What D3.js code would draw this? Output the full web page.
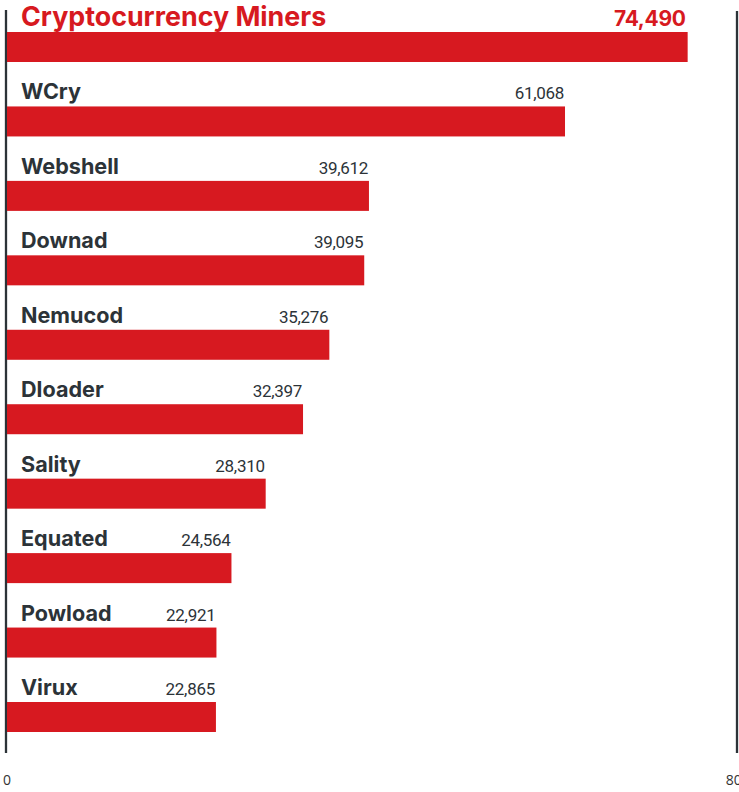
<!DOCTYPE html>
<html>
<head>
<meta charset="utf-8">
<script src="https://cdn.jsdelivr.net/npm/d3@7"></script>
<style>
  html, body { margin: 0; padding: 0; background: #fff; }
  svg { display: block; }
</style>
</head>
<body>
<div id="chart"></div>
<script>
const categories = ["Cryptocurrency Miners", "WCry", "Webshell", "Downad", "Nemucod", "Dloader", "Sality", "Equated", "Powload", "Virux"];
const values = [74490, 61068, 39612, 39095, 35276, 32397, 28310, 24564, 22921, 22865];
const tickValues = [0, 80000];
const tickLabels = ["0", "80K"];

const W = 739, H = 792;
const red = "#d71920", ink = "#2c3338";

const svg = d3.select("#chart").append("svg").attr("width", W).attr("height", H);

const x = d3.scaleLinear().domain([0, 80000]).range([7, 738]);
const y = d3.scaleBand().domain(categories).range([32, 732]).paddingInner(0.597).paddingOuter(0);

const data = categories.map((c, i) => ({ c, v: values[i], i }));

// vertical frame lines at 0 and 80,000
svg.selectAll("line.frame").data(tickValues).enter().append("line")
  .attr("class", "frame")
  .attr("x1", d => x(d) - 1).attr("x2", d => x(d) - 1)
  .attr("y1", (d, i) => i === 0 ? 10 : 11).attr("y2", 753)
  .attr("stroke", ink).attr("stroke-width", 2.3);

// tick labels
svg.selectAll("text.tick").data(tickValues).enter().append("text")
  .attr("class", "tick")
  .attr("x", d => x(d)).attr("y", 785)
  .attr("text-anchor", "middle")
  .attr("font-family", "'Open Sans', sans-serif")
  .attr("font-size", 14)
  .attr("fill", "#333")
  .text((d, i) => tickLabels[i]);

// bars
svg.selectAll("rect.bar").data(data).enter().append("rect")
  .attr("class", "bar")
  .attr("x", x(0))
  .attr("y", d => y(d.c))
  .attr("width", d => x(d.v) - x(0))
  .attr("height", y.bandwidth())
  .attr("fill", red);

// category labels
svg.selectAll("text.cat").data(data).enter().append("text")
  .attr("class", "cat")
  .attr("x", 21)
  .attr("y", d => y(d.c) - (d.i === 0 ? 6 : 7))
  .attr("font-family", "Inter, sans-serif")
  .attr("font-weight", 700)
  .attr("font-size", d => d.i === 0 ? 26.8 : 21.6)
  .attr("fill", d => d.i === 0 ? red : ink)
  .text(d => d.c);

// value labels
const fmt = d3.format(",");
svg.selectAll("text.val").data(data).enter().append("text")
  .attr("class", "val")
  .attr("x", d => x(d.v) - (d.i === 0 ? 2 : 1))
  .attr("y", d => y(d.c) - (d.i === 0 ? 6 : 7))
  .attr("text-anchor", "end")
  .attr("font-family", d => d.i === 0 ? "Inter, sans-serif" : "Roboto, sans-serif")
  .attr("font-weight", d => d.i === 0 ? 700 : 400)
  .attr("font-size", d => d.i === 0 ? 21 : 17)
  .attr("letter-spacing", d => d.i === 0 ? -0.3 : -0.3)
  .attr("fill", d => d.i === 0 ? red : ink)
  .text(d => fmt(d.v));
</script>
</body>
</html>
